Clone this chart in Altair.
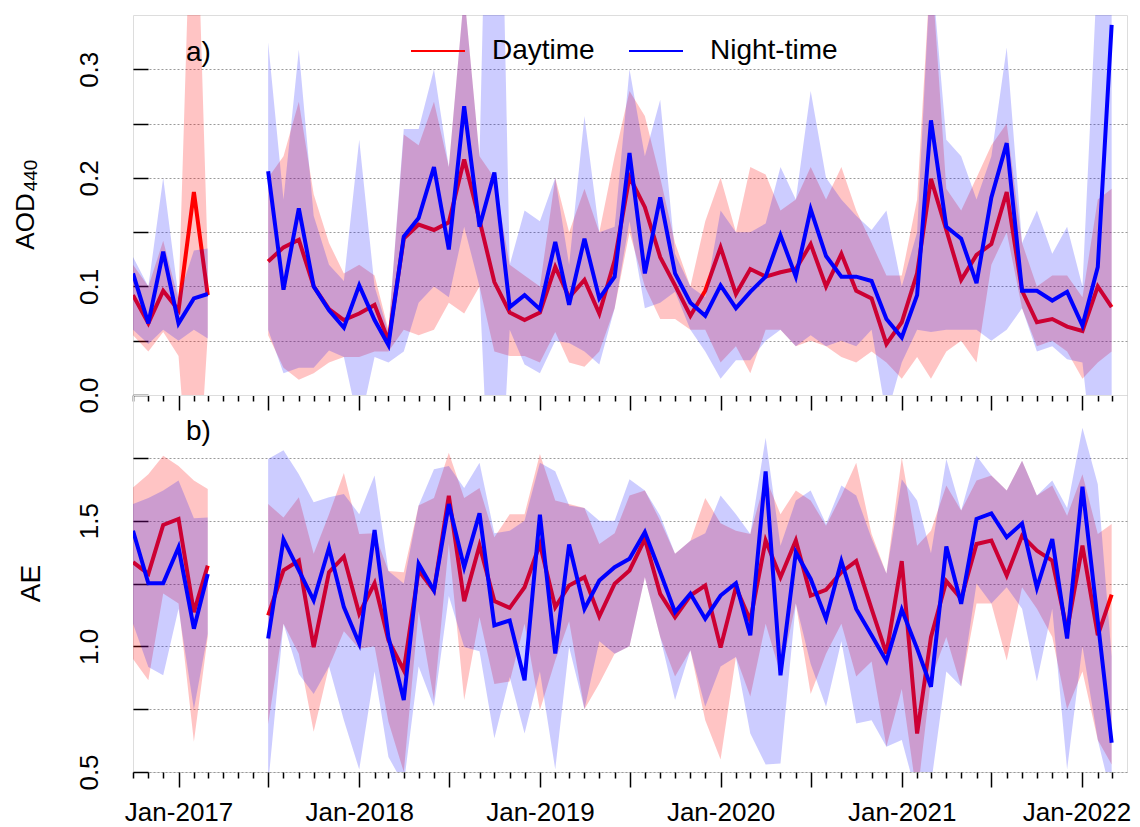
import altair as alt
import pandas as pd

FONT = "Liberation Sans"

# ---------------- categories (months) ----------------
months_seg1 = ["2016-10", "2016-11", "2016-12", "2017-01", "2017-02", "2017-03"]
months_seg2 = []
for yy in range(2017, 2023):
    for mm in range(1, 13):
        key = f"{yy}-{mm:02d}"
        if "2017-07" <= key <= "2022-03":
            months_seg2.append(key)

# ---------------- AOD440 ----------------
aod_day_1 = [0.092, 0.066, 0.096, 0.078, 0.187, 0.092]
aod_day_lo_1 = [0.055, 0.040, 0.058, 0.036, -0.15, 0.055]
aod_day_hi_1 = [0.120, 0.100, 0.142, 0.088, 0.55, 0.125]
aod_ngt_1 = [0.112, 0.066, 0.132, 0.066, 0.089, 0.093]
aod_ngt_lo_1 = [0.060, 0.047, 0.060, 0.050, 0.060, 0.052]
aod_ngt_hi_1 = [0.127, 0.100, 0.200, 0.090, 0.133, 0.135]

aod_day_2 = [0.123, 0.136, 0.143, 0.100, 0.079, 0.069,
             0.075, 0.083, 0.050, 0.144, 0.157, 0.152, 0.159, 0.217, 0.161, 0.104, 0.076, 0.069,
             0.076, 0.118, 0.090, 0.106, 0.075, 0.124, 0.201, 0.173, 0.127, 0.101, 0.073, 0.096,
             0.136, 0.093, 0.116, 0.109, 0.113, 0.116, 0.139, 0.100, 0.130, 0.096, 0.089, 0.047,
             0.067, 0.112, 0.199, 0.152, 0.106, 0.129, 0.139, 0.187, 0.096, 0.067, 0.070, 0.063,
             0.059, 0.100, 0.081]
aod_day_hi_2 = [0.20, 0.22, 0.27, 0.185, 0.14, 0.112,
                0.12, 0.11, 0.06, 0.24, 0.23, 0.27, 0.21, 0.37, 0.22, 0.20, 0.12, 0.11,
                0.10, 0.20, 0.15, 0.19, 0.15, 0.22, 0.28, 0.257, 0.20, 0.14, 0.10, 0.16,
                0.20, 0.15, 0.21, 0.203, 0.17, 0.18, 0.21, 0.18, 0.21, 0.17, 0.14, 0.11,
                0.11, 0.18, 0.40, 0.19, 0.17, 0.20, 0.23, 0.25, 0.14, 0.10, 0.11, 0.11,
                0.09, 0.18, 0.19]
aod_day_lo_2 = [0.055, 0.025, 0.014, 0.02, 0.03, 0.035,
                0.035, 0.04, 0.04, 0.06, 0.055, 0.06, 0.085, 0.075, 0.10, 0.04, 0.036, 0.036,
                0.03, 0.058, 0.03, 0.026, 0.04, 0.08, 0.15, 0.10, 0.07, 0.07, 0.06, 0.06,
                0.03, 0.045, 0.02, 0.06, 0.06, 0.045, 0.05, 0.045, 0.035, 0.03, 0.04, 0.03,
                0.015, 0.035, 0.015, 0.04, 0.05, 0.03, 0.12, 0.15, 0.08, 0.045, 0.05, 0.04,
                0.015, 0.03, 0.04]
aod_ngt_2 = [0.206, 0.097, 0.172, 0.100, 0.078, 0.062,
             0.101, 0.069, 0.046, 0.146, 0.163, 0.210, 0.134, 0.266, 0.155, 0.205, 0.081, 0.092,
             0.079, 0.141, 0.083, 0.144, 0.089, 0.109, 0.223, 0.112, 0.182, 0.112, 0.085, 0.073,
             0.101, 0.080, 0.095, 0.109, 0.147, 0.109, 0.171, 0.128, 0.109, 0.109, 0.105, 0.070,
             0.053, 0.092, 0.253, 0.155, 0.144, 0.103, 0.182, 0.232, 0.096, 0.096, 0.087, 0.095,
             0.064, 0.118, 0.341]
aod_ngt_hi_2 = [0.325, 0.18, 0.318, 0.165, 0.12, 0.105,
                0.235, 0.10, 0.058, 0.245, 0.245, 0.30, 0.21, 0.37, 0.22, 0.80, 0.12, 0.17,
                0.16, 0.20, 0.12, 0.257, 0.15, 0.155, 0.30, 0.22, 0.272, 0.13, 0.10, 0.09,
                0.17, 0.15, 0.15, 0.158, 0.21, 0.18, 0.28, 0.20, 0.18, 0.165, 0.152, 0.17,
                0.10, 0.15, 0.40, 0.235, 0.22, 0.18, 0.22, 0.32, 0.14, 0.17, 0.13, 0.155,
                0.10, 0.40, 0.42]
aod_ngt_lo_2 = [0.06, 0.02, 0.025, 0.025, 0.041, 0.035,
                -0.03, 0.035, 0.03, 0.04, 0.085, 0.10, 0.09, 0.155, 0.10, -0.2, 0.06, 0.028,
                0.02, 0.05, 0.048, 0.04, 0.028, 0.08, 0.16, 0.08, 0.085, 0.095, 0.06, 0.04,
                0.015, 0.032, 0.032, 0.05, 0.06, 0.045, 0.055, 0.045, 0.05, 0.045, 0.06, -0.02,
                0.03, 0.06, 0.058, 0.06, 0.06, 0.06, 0.05, 0.06, 0.08, 0.04, 0.045, 0.033,
                0.03, -0.1, -0.1]

# ---------------- AE ----------------
ae_day_1 = [1.335, 1.288, 1.483, 1.507, 1.136, 1.321]
ae_day_lo_1 = [0.95, 0.865, 1.21, 1.17, 0.62, 1.037]
ae_day_hi_1 = [1.632, 1.685, 1.758, 1.718, 1.66, 1.626]
ae_ngt_1 = [1.460, 1.251, 1.251, 1.394, 1.070, 1.288]
ae_ngt_lo_1 = [1.09, 0.918, 0.885, 1.15, 0.75, 1.05]
ae_ngt_hi_1 = [1.566, 1.59, 1.62, 1.66, 1.51, 1.513]

ae_day_2 = [1.123, 1.302, 1.341, 0.997, 1.295, 1.357,
            1.130, 1.251, 1.024, 0.905, 1.302, 1.222, 1.599, 1.180, 1.401, 1.180, 1.153, 1.235,
            1.407, 1.156, 1.242, 1.275, 1.119, 1.249, 1.302, 1.427, 1.209, 1.116, 1.202, 1.242,
            0.995, 1.235, 1.103, 1.421, 1.275, 1.421, 1.202, 1.225, 1.295, 1.339, 1.149, 0.971,
            1.339, 0.653, 1.037, 1.259, 1.189, 1.407, 1.421, 1.282, 1.440, 1.381, 1.341, 1.063,
            1.401, 1.044, 1.206]
ae_day_hi_2 = [1.566, 1.513, 1.593, 1.368, 1.526, 1.69,
               1.447, 1.45, 1.30, 1.295, 1.56, 1.59, 1.77, 1.59, 1.63, 1.434, 1.526, 1.526,
               1.765, 1.58, 1.566, 1.55, 1.407, 1.45, 1.60, 1.62, 1.50, 1.368, 1.42, 1.59,
               1.49, 1.46, 1.447, 1.67, 1.526, 1.62, 1.58, 1.48, 1.60, 1.73, 1.447, 1.29,
               1.75, 1.40, 1.46, 1.64, 1.54, 1.66, 1.68, 1.62, 1.738, 1.60, 1.64, 1.52,
               1.685, 1.447, 1.487]
ae_day_lo_2 = [0.69, 1.09, 0.97, 0.66, 0.92, 1.06,
               0.99, 1.0, 0.7, 0.5, 1.14, 0.786, 1.407, 0.786, 1.116, 0.85, 0.86, 1.09,
               0.746, 0.944, 1.10, 0.75, 0.852, 0.97, 1.0, 1.275, 1.037, 0.88, 0.984, 0.706,
               0.55, 0.958, 0.80, 1.09, 0.89, 1.17, 0.81, 0.97, 1.09, 0.88, 0.94, 0.60,
               0.83, 0.40, 0.87, 1.037, 0.84, 1.17, 1.17, 0.944, 1.235, 1.15, 1.037, 0.75,
               0.90, 0.627, 0.53]
ae_ngt_2 = [1.031, 1.425, 1.302, 1.183, 1.392, 1.156,
            1.011, 1.463, 1.037, 0.786, 1.328, 1.222, 1.566, 1.315, 1.529, 1.083, 1.103, 0.865,
            1.524, 0.971, 1.405, 1.149, 1.262, 1.315, 1.348, 1.454, 1.295, 1.136, 1.209, 1.110,
            1.202, 1.251, 1.044, 1.696, 0.885, 1.374, 1.268, 1.110, 1.339, 1.149, 1.044, 0.942,
            1.146, 0.991, 0.839, 1.397, 1.169, 1.507, 1.529, 1.434, 1.489, 1.233, 1.427, 1.031,
            1.635, 1.10, 0.616]
ae_ngt_hi_2 = [1.745, 1.78, 1.685, 1.573, 1.593, 1.606,
               1.526, 1.68, 1.30, 1.25, 1.56, 1.705, 1.718, 1.63, 1.73, 1.45, 1.46, 1.50,
               1.73, 1.697, 1.56, 1.55, 1.50, 1.50, 1.665, 1.62, 1.52, 1.368, 1.42, 1.45,
               1.60, 1.526, 1.447, 1.83, 1.40, 1.58, 1.62, 1.487, 1.64, 1.60, 1.43, 1.29,
               1.665, 1.58, 1.37, 1.745, 1.54, 1.758, 1.68, 1.62, 1.738, 1.60, 1.66, 1.55,
               1.87, 1.645, 0.96]
ae_ngt_lo_2 = [0.45, 1.09, 0.89, 0.81, 0.92, 0.706,
               0.51, 0.90, 0.56, 0.45, 0.92, 0.76, 1.20, 0.997, 0.98, 0.634, 0.878, 0.653,
               0.90, 0.51, 0.997, 0.75, 1.02, 0.97, 1.0, 1.275, 1.037, 0.786, 0.984, 0.76,
               0.92, 0.958, 0.653, 0.53, 0.534, 1.17, 0.93, 0.76, 1.02, 0.693, 0.706, 0.60,
               0.627, 0.40, 0.45, 0.90, 0.84, 1.25, 1.17, 1.235, 1.15, 0.86, 1.15, 0.51,
               1.0, 0.627, 0.40]

# ---------------- table ----------------
months = months_seg1 + months_seg2
df = pd.DataFrame({
    "date": [m + "-01T00:00:00" for m in months],
    "seg": [1] * len(months_seg1) + [2] * len(months_seg2),
    "aod_day": aod_day_1 + aod_day_2,
    "aod_day_lo": aod_day_lo_1 + aod_day_lo_2,
    "aod_day_hi": aod_day_hi_1 + aod_day_hi_2,
    "aod_ngt": aod_ngt_1 + aod_ngt_2,
    "aod_ngt_lo": aod_ngt_lo_1 + aod_ngt_lo_2,
    "aod_ngt_hi": aod_ngt_hi_1 + aod_ngt_hi_2,
    "ae_day": ae_day_1 + ae_day_2,
    "ae_day_lo": ae_day_lo_1 + ae_day_lo_2,
    "ae_day_hi": ae_day_hi_1 + ae_day_hi_2,
    "ae_ngt": ae_ngt_1 + ae_ngt_2,
    "ae_ngt_lo": ae_ngt_lo_1 + ae_ngt_lo_2,
    "ae_ngt_hi": ae_ngt_hi_1 + ae_ngt_hi_2,
})

tick_dates = []
for yy in range(2016, 2023):
    for mm in range(1, 13):
        key = f"{yy}-{mm:02d}"
        if "2016-10" <= key <= "2022-03":
            tick_dates.append(alt.DateTime(year=yy, month=mm, date=1))

xscale = alt.Scale(domain=[alt.DateTime(year=2016, month=10, date=1),
                           alt.DateTime(year=2022, month=4, date=1)])

tick_size = {"condition": {"test": "month(datum.value) % 6 == 0", "value": 15}, "value": 6}
last_label_shift = {"condition": {"test": "year(datum.value) >= 2022", "value": -6}, "value": 0}

PLOT_W = 994


def x_axis(show_labels):
    kw = dict(values=tick_dates, tickSize=tick_size, domain=False, grid=False,
              tickColor="black", tickWidth=1.5, title=None, labelOverlap=False)
    if show_labels:
        kw.update(labelExpr="month(datum.value) == 0 ? timeFormat(datum.value, '%b-%Y') : ''",
                  labelFont=FONT, labelFontSize=26, labelColor="black", labelPadding=12,
                  labelAngle=0, labelOffset=last_label_shift)
    else:
        kw.update(labels=False)
    return alt.Axis(**kw)


def grid_axis(vals, sub_title):
    kw = dict(orient="left", values=vals, grid=True, gridDash=[2, 2],
              gridColor="#9a9a9a", gridWidth=1, domain=False, ticks=False, labels=False)
    if sub_title:
        kw.update(title=sub_title, titleFont=FONT, titleFontSize=19,
                  titleFontWeight="normal", titleColor="black", titleAngle=270,
                  titleAlign="center", titleBaseline="alphabetic", titleX=-97, titleY=160)
    else:
        kw.update(title=None)
    return alt.Axis(**kw)


def y_axis(vals, expr, title, title_size, title_x, title_y):
    return alt.Axis(orient="left", values=vals, labelExpr=expr, grid=False, domain=False,
                    tickSize=15, offset=-15,
                    tickColor="black", tickWidth=1.5, labelAngle=270, labelAlign="center",
                    labelBaseline="alphabetic", labelPadding=36, labelFont=FONT,
                    labelFontSize=26, labelColor="black", labelOverlap=False,
                    title=title, titleFont=FONT, titleFontSize=title_size,
                    titleFontWeight="normal",
                    titleColor="black", titleAngle=270, titleAlign="center",
                    titleBaseline="alphabetic", titleX=title_x, titleY=title_y)


color_scale = alt.Scale(domain=["Daytime", "Night-time"], range=["red", "blue"])
legend = alt.Legend(title=None, orient="none", legendX=277, legendY=8,
                    direction="horizontal", symbolType="stroke", symbolSize=2916,
                    symbolStrokeWidth=2, labelFont=FONT, labelFontSize=28,
                    labelColor="black", labelOffset=26, columnPadding=30, padding=0)


def panel(prefix, ydomain, yvals, yaxis, sub_title, height, tag, tag_y, with_legend):
    xa = alt.X("date:T", scale=xscale, axis=x_axis(prefix == "ae"), title=None)
    ys = alt.Scale(domain=ydomain, nice=False, zero=False)
    base = alt.Chart(df)
    day_band = base.mark_area(color="red", opacity=0.23, clip=True).encode(
        x=xa, y=alt.Y(f"{prefix}_day_lo:Q", scale=ys, axis=grid_axis(yvals, sub_title)),
        y2=f"{prefix}_day_hi:Q", detail="seg:N")
    ngt_band = base.mark_area(color="blue", opacity=0.2, clip=True).encode(
        x=xa, y=alt.Y(f"{prefix}_ngt_lo:Q", scale=ys, axis=None),
        y2=f"{prefix}_ngt_hi:Q", detail="seg:N")
    if with_legend:
        day_col = alt.Color("series:N", scale=color_scale, legend=legend)
        day_line = base.transform_calculate(series="'Daytime'").mark_line(
            strokeWidth=4, clip=True).encode(
            x=xa, y=alt.Y(f"{prefix}_day:Q", scale=ys, axis=yaxis), detail="seg:N",
            color=day_col)
        ngt_line = base.transform_calculate(series="'Night-time'").mark_line(
            strokeWidth=4, clip=True).encode(
            x=xa, y=alt.Y(f"{prefix}_ngt:Q", scale=ys, axis=None), detail="seg:N",
            color=day_col)
    else:
        day_line = base.mark_line(strokeWidth=4, clip=True, color="red").encode(
            x=xa, y=alt.Y(f"{prefix}_day:Q", scale=ys, axis=yaxis), detail="seg:N")
        ngt_line = base.mark_line(strokeWidth=4, clip=True, color="blue").encode(
            x=xa, y=alt.Y(f"{prefix}_ngt:Q", scale=ys, axis=None), detail="seg:N")
    tag_layer = alt.Chart(pd.DataFrame({"t": [tag]})).mark_text(
        font=FONT, fontSize=28, align="left", baseline="middle", color="black").encode(
        text="t:N", x=alt.value(53), y=alt.value(tag_y))
    return alt.layer(day_band, day_line, ngt_band, ngt_line, tag_layer).resolve_axis(
        y="independent").properties(width=PLOT_W, height=height)


ya_vals = [0, 0.05, 0.1, 0.15, 0.2, 0.25, 0.3]
yb_vals = [0.5, 0.75, 1.0, 1.25, 1.5, 1.75]
ya = y_axis(ya_vals,
            "round(datum.value*100) % 10 == 0 ? format(datum.value, '.1f') : ''",
            "AOD", 26, -115, 206)
yb = y_axis(yb_vals,
            "round(datum.value*100) % 50 == 0 ? format(datum.value, '.1f') : ''",
            "AE", 28, -109, 188)

top = panel("aod", [0, 0.35], ya_vals, ya, "440", 380, "a)", 38, True)
bottom = panel("ae", [0.5, 2.0], yb_vals, yb, None, 377, "b)", 37, False)

chart = alt.vconcat(top, bottom, spacing=0, bounds="flush").properties(
    padding={"left": 3, "top": 6, "right": 0, "bottom": 0}
).configure_view(stroke="#222", strokeWidth=1.5).configure(background="white")

chart.save("out.html", embed_options={"renderer": "svg", "actions": False})
